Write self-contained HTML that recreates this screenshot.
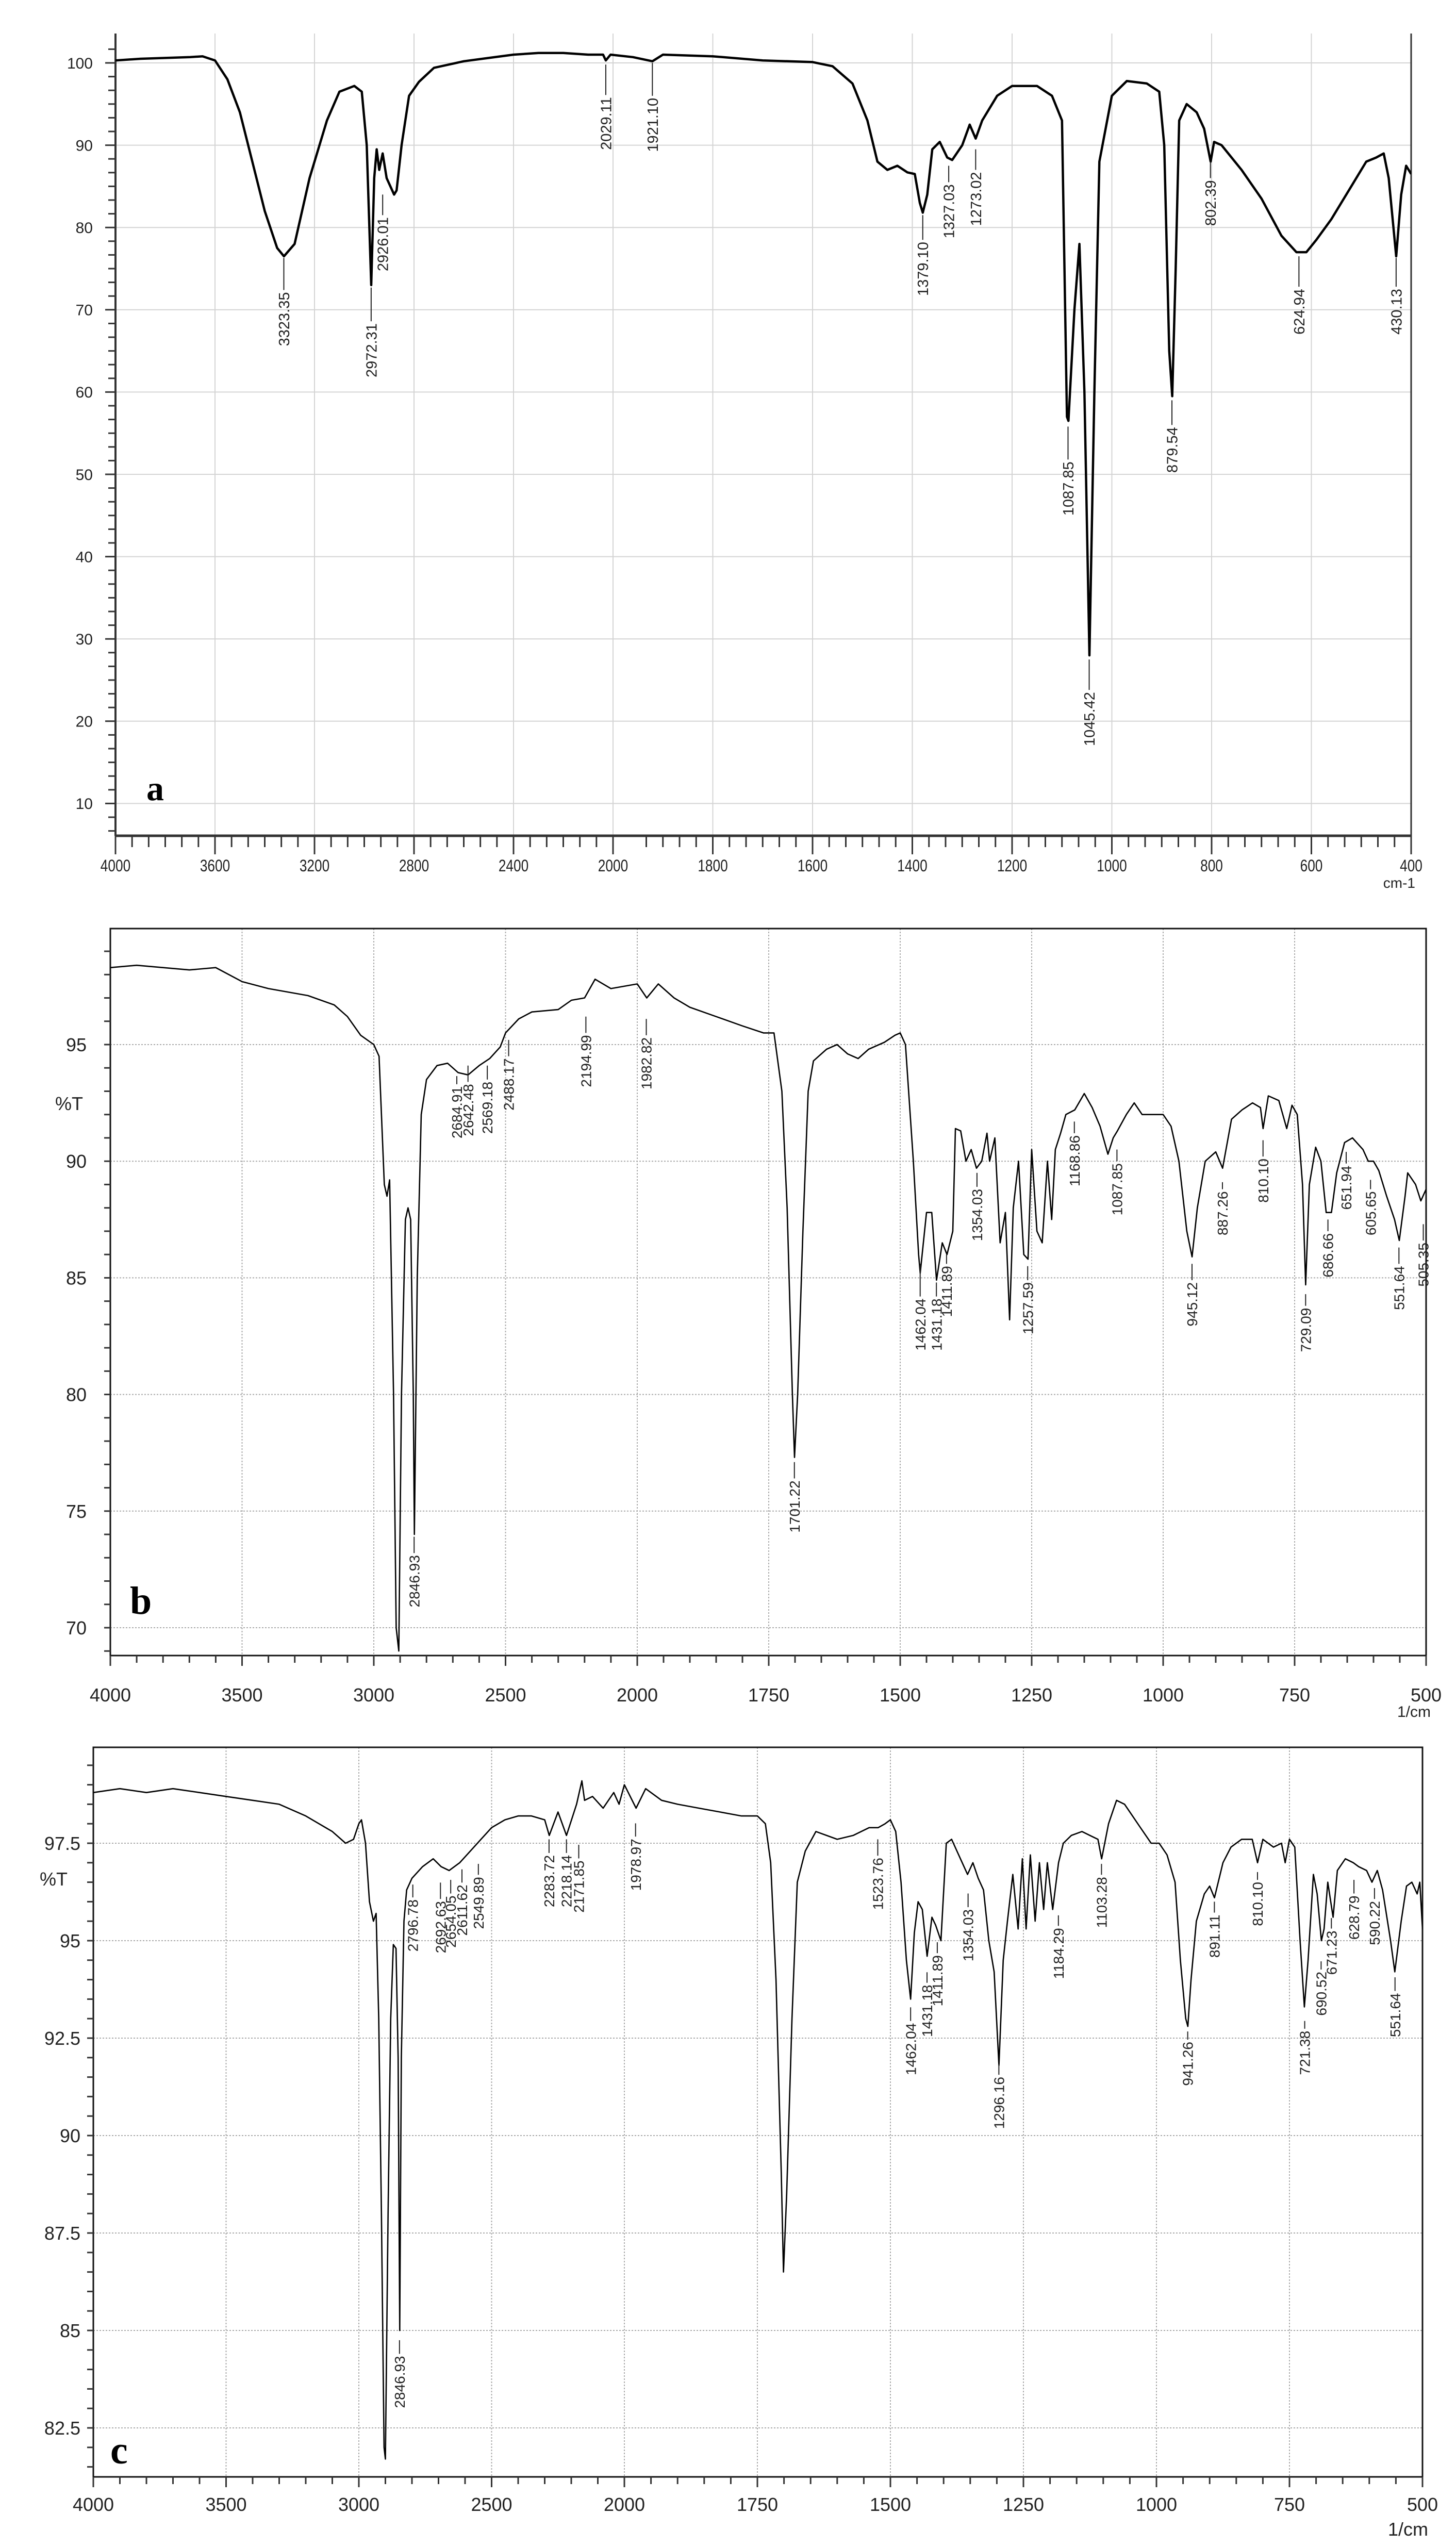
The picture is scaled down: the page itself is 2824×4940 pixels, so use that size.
<!DOCTYPE html>
<html><head><meta charset="utf-8">
<style>
html,body{margin:0;padding:0;background:#fff;}
svg{display:block;font-family:"Liberation Sans",sans-serif;}
</style></head>
<body>
<svg id="fig" width="2824" height="4940" viewBox="0 0 2824 4940" xmlns="http://www.w3.org/2000/svg"></svg>
<script>
// ---------- Panel a data ----------
const aWn=[4000,3900,3800,3700,3650,3600,3550,3500,3450,3400,3350,3323,3280,3220,3150,3100,3040,3010,2990,2972,2960,2950,2940,2926,2910,2880,2870,2850,2820,2780,2720,2600,2500,2400,2300,2200,2100,2040,2029,2010,1960,1921,1900,1800,1700,1600,1560,1520,1490,1470,1450,1430,1410,1395,1385,1379,1370,1360,1345,1330,1320,1300,1285,1273,1260,1230,1200,1150,1120,1100,1090,1087,1075,1065,1055,1045,1035,1025,1000,970,930,905,895,885,879,872,865,850,830,815,802,795,780,740,700,660,630,610,590,560,520,490,470,455,445,430,420,410,400];
const aT=[100.3,100.5,100.6,100.7,100.8,100.3,98,94,88,82,77.5,76.5,78,86,93,96.5,97.2,96.5,90,73,86,89.5,87,89,86,84,84.5,90,96,97.7,99.4,100.2,100.6,101,101.2,101.2,101,101,100.3,101,100.7,100.2,101,100.8,100.3,100.1,99.6,97.5,93,88,87,87.5,86.7,86.5,83,81.8,84,89.5,90.4,88.5,88.2,90,92.5,90.8,93,96,97.2,97.2,96,93,57,56.5,70,78,60,28,60,88,96,97.8,97.5,96.5,90,65,59.5,75,93,95,94,92,88,90.4,90,87,83.5,79,77,77,78.5,81,85,88,88.5,89,86,76.5,84,87.5,86.5];
const aPeakWn=[3323.35,2972.31,2926.01,2029.11,1921.10,1379.10,1327.03,1273.02,1087.85,1045.42,879.54,802.39,624.94,430.13];
const aPeakLabels=["3323.35","2972.31","2926.01","2029.11","1921.10","1379.10","1327.03","1273.02","1087.85","1045.42","879.54","802.39","624.94","430.13"];
const aPeakTop=[76.3,72.7,84.0,99.8,100.0,81.5,87.5,89.5,55.8,27.5,59.0,88.0,76.5,76.3];
const aPeakBot=[72.4,68.6,81.5,96.1,96.0,78.5,85.5,87.0,51.8,23.8,56.0,86.0,72.8,72.8];
const aYTicks=[10,20,30,40,50,60,70,80,90,100];
const aXTicks=[4000,3600,3200,2800,2400,2000,1800,1600,1400,1200,1000,800,600,400];

// ---------- Panel b data ----------
const bWn=[4000,3900,3800,3700,3600,3500,3400,3250,3150,3100,3050,3000,2980,2960,2950,2940,2925,2915,2905,2895,2880,2870,2860,2850,2846,2835,2820,2800,2760,2720,2680,2642,2600,2560,2520,2500,2450,2400,2300,2250,2200,2160,2100,2050,2000,1982,1960,1930,1900,1850,1800,1760,1740,1725,1715,1705,1701,1695,1685,1675,1665,1640,1620,1600,1580,1560,1530,1510,1500,1490,1475,1465,1462,1450,1440,1431,1420,1411,1400,1395,1385,1375,1365,1355,1345,1335,1330,1320,1310,1300,1292,1285,1275,1265,1257,1250,1240,1230,1220,1212,1205,1195,1185,1168,1150,1135,1120,1105,1095,1087,1070,1055,1040,1020,1000,985,970,955,945,935,920,900,887,870,850,830,815,810,800,780,765,755,745,735,729,722,710,700,690,680,670,655,640,620,610,600,590,575,560,551,540,535,520,510,500];
const bT=[98.3,98.4,98.3,98.2,98.3,97.7,97.4,97.1,96.7,96.2,95.4,95.0,94.5,89,88.5,89.2,80,70,69,80,87.5,88,87.5,80,74,85,92,93.5,94.1,94.2,93.8,93.7,94.1,94.4,94.9,95.5,96.1,96.4,96.5,96.9,97,97.8,97.4,97.5,97.6,97,97.6,97,96.6,96.2,95.8,95.5,95.5,93,88,80,77.3,80,87,93,94.3,94.8,95,94.6,94.4,94.8,95.1,95.4,95.5,95,90,86,85.2,87.8,87.8,84.9,86.5,86,87,91.4,91.3,90,90.5,89.7,90,91.2,90,91,86.5,87.8,83.2,88,90,86,85.8,90.5,87,86.5,90,87.5,90.5,91.2,92,92.2,92.9,92.3,91.5,90.3,91,91.3,92,92.5,92,92,92,91.5,90,87,85.9,88,90,90.4,89.7,91.8,92.2,92.5,92.3,91.4,92.8,92.6,91.4,92.4,92,89,84.7,89,90.6,90,87.8,87.8,89.5,90.8,91,90.5,90,90,89.6,88.5,87.5,86.6,88.5,89.5,89,88.3,88.8];
const bPeakWn=[2846.93,2684.91,2642.48,2569.18,2488.17,2194.99,1982.82,1701.22,1462.04,1431.18,1411.89,1354.03,1257.59,1168.86,1087.85,945.12,887.26,810.10,729.09,686.66,651.94,605.65,551.64,505.35];
const bPeakLabels=["2846.93","2684.91","2642.48","2569.18","2488.17","2194.99","1982.82","1701.22","1462.04","1431.18","1411.89","1354.03","1257.59","1168.86","1087.85","945.12","887.26","810.10","729.09","686.66","651.94","605.65","551.64","505.35"];
const bPeakTop=[73.9,93.65,94.1,94.1,95.2,96.2,96.1,77.1,85.6,84.8,86.0,89.5,85.5,91.7,90.5,85.6,89.1,90.9,84.3,87.5,90.4,89.2,86.3,87.3];
const bPeakBot=[73.2,93.3,93.4,93.5,94.5,95.5,95.4,76.4,84.2,84.2,85.6,88.9,84.9,91.2,90.0,84.9,88.8,90.2,83.8,87.0,89.9,88.8,85.6,86.6];
const bYTicks=[70,75,80,85,90,95];
const bXTicks=[4000,3500,3000,2500,2000,1750,1500,1250,1000,750,500];

// ---------- Panel c data ----------
const cWn=[4000,3900,3800,3700,3600,3500,3400,3300,3200,3150,3100,3050,3020,3000,2990,2975,2960,2945,2935,2925,2915,2905,2900,2890,2880,2870,2860,2852,2846,2840,2830,2820,2800,2760,2720,2690,2660,2620,2580,2540,2500,2450,2400,2350,2300,2283,2250,2218,2180,2160,2150,2120,2080,2040,2020,2000,1978,1960,1930,1900,1860,1820,1780,1750,1735,1725,1715,1705,1701,1695,1685,1675,1660,1640,1620,1600,1570,1540,1523,1510,1500,1490,1480,1470,1462,1455,1448,1440,1431,1422,1415,1405,1395,1385,1375,1365,1355,1345,1335,1325,1315,1305,1296,1288,1280,1270,1260,1252,1245,1237,1228,1220,1212,1205,1195,1184,1175,1160,1140,1125,1110,1103,1090,1075,1060,1045,1030,1010,995,980,965,955,945,941,935,925,910,900,891,875,860,840,820,810,800,780,765,758,750,740,730,722,715,705,698,690,685,678,668,660,645,630,620,605,595,585,575,560,552,540,530,520,510,505,500];
const cT=[98.8,98.9,98.8,98.9,98.8,98.7,98.6,98.5,98.2,98,97.8,97.5,97.6,98.0,98.1,97.5,96,95.5,95.7,93,88,82,81.7,88,93,94.9,94.8,92,85,92,95.5,96.3,96.6,96.9,97.1,96.9,96.8,97,97.3,97.6,97.9,98.1,98.2,98.2,98.1,97.7,98.3,97.7,98.5,99.1,98.6,98.7,98.4,98.8,98.5,99.0,98.4,98.9,98.6,98.5,98.4,98.3,98.2,98.2,98.0,97,94,89,86.5,88.5,93,96.5,97.3,97.8,97.7,97.6,97.7,97.9,97.9,98,98.1,97.8,96.5,94.5,93.5,95.2,96,95.8,94.6,95.6,95.4,95.0,97.5,97.6,97.3,97,96.7,97,96.6,96.3,95,94.2,91.8,94.5,95.5,96.7,95.3,97.1,95.3,97.2,95.5,97,95.8,97,95.8,97,97.5,97.7,97.8,97.7,97.6,97.1,98,98.6,98.5,98.2,97.9,97.5,97.5,97.2,96.5,94.5,93,92.8,94,95.5,96.2,96.4,96.1,97,97.4,97.6,97.6,97,97.6,97.4,97.5,97.0,97.6,97.4,95,93.3,94.5,96.7,96.2,95,95.3,96.5,95.6,96.8,97.1,97,96.9,96.8,96.5,96.8,96.3,95,94.2,95.5,96.4,96.5,96.2,96.5,95.3];
const cPeakWn=[2846.93,2796.78,2692.63,2654.05,2611.62,2549.89,2283.72,2218.14,2171.85,1978.97,1523.76,1462.04,1431.18,1411.89,1354.03,1296.16,1184.29,1103.28,941.26,891.11,810.10,721.38,690.52,671.23,628.79,590.22,551.64];
const cPeakLabels=["2846.93","2796.78","2692.63","2654.05","2611.62","2549.89","2283.72","2218.14","2171.85","1978.97","1523.76","1462.04","1431.18","1411.89","1354.03","1296.16","1184.29","1103.28","941.26","891.11","810.10","721.38","690.52","671.23","628.79","590.22","551.64"];
const cPeakTop=[84.75,96.44,96.49,96.56,96.83,96.97,97.6,97.6,97.46,98.01,97.6,93.29,94.19,94.96,96.21,91.83,95.65,96.97,92.67,96.0,96.76,92.94,94.47,95.58,96.56,96.35,94.06];
const cPeakBot=[84.4,96.11,96.07,96.21,96.49,96.69,97.25,97.25,97.11,97.67,97.18,92.94,93.92,94.68,95.86,91.56,95.38,96.69,92.46,95.72,96.56,92.74,94.26,95.31,96.21,96.07,93.71];
const cYTicks=[82.5,85,87.5,90,92.5,95,97.5];
const cXTicks=[4000,3500,3000,2500,2000,1750,1500,1250,1000,750,500];

const NS="http://www.w3.org/2000/svg";
const svg=document.getElementById('fig');
function mk(tag,attrs,parent){const e=document.createElementNS(NS,tag);for(const k in attrs)e.setAttribute(k,attrs[k]);(parent||svg).appendChild(e);return e;}

function xScale(x0,xm,x1,hi,lo){return w=> w>=2000 ? x0+(hi-w)/(hi-2000)*(xm-x0) : xm+(2000-w)/(2000-lo)*(x1-xm);}
function yScale(refV,refY,pxPerUnit){return v=>refY+(refV-v)*pxPerUnit;}

function drawPanel(p){
  const g=mk('g',{});
  
  
  const X=p.X,Y=p.Y;
  p.yTicks.forEach(v=>{
    const l=mk('line',{x1:p.left,x2:p.right,y1:Y(v),y2:Y(v),stroke:p.gridColor,'stroke-width':p.gridW,'stroke-dasharray':p.dash},g);
    
    
  });
  p.xTicks.forEach(w=>{
    if(w===p.hi||w===p.lo)return;
    const l=mk('line',{x1:X(w),x2:X(w),y1:p.top,y2:p.bottom,stroke:p.gridColor,'stroke-width':p.gridW,'stroke-dasharray':p.dash},g);
    
    
  });
  if(p.box){
    const r=mk('rect',{x:p.left,y:p.top,width:p.right-p.left,height:p.bottom-p.top,fill:'none',stroke:'#111','stroke-width':3},g);
    
    
  } else {
    const l1=mk('line',{x1:p.left,x2:p.left,y1:p.top,y2:p.bottom,stroke:'#333','stroke-width':4},g);
    
    
    const l2=mk('line',{x1:p.left,x2:p.right,y1:p.bottom,y2:p.bottom,stroke:'#333','stroke-width':5},g);
    
    
    const l3=mk('line',{x1:p.right,x2:p.right,y1:p.top,y2:p.bottom,stroke:'#333','stroke-width':3},g);
    
    
  }
  const yMax=Math.max(...p.yTicks)+p.yMinorStep*20;
  for(let v=Math.min(...p.yTicks)-p.yMinorStep*20;v<=yMax;v+=p.yMinorStep){
    const y=Y(v); if(y<p.top+4||y>p.bottom-4)continue;
    const isMaj=p.yTicks.some(t=>Math.abs(t-v)<1e-6);
    const t=mk('line',{x1:p.left-(isMaj?p.majLen:p.minLen),x2:p.left,y1:y,y2:y,stroke:'#333','stroke-width':3},g);
    
    
  }
  p.yTicks.forEach(v=>{
    const t=mk('text',{x:p.yLabX,y:Y(v)+p.yFont*0.36,'text-anchor':'end','font-size':p.yFont,fill:'#222'},g);
    t.textContent=p.yFmt(v);
    
    
  });
  for(let w=p.hi; w>=p.lo-0.01; w-= (w>2000? p.xMinHi : p.xMinLo)){
    const isMaj=p.xTicks.some(t=>Math.abs(t-w)<0.5);
    const t=mk('line',{x1:X(w),x2:X(w),y1:p.bottom,y2:p.bottom+(isMaj?p.xMajLen:p.xMinLen),stroke:'#333','stroke-width':3},g);
    
    
  }
  p.xTicks.forEach(w=>{
    const t=mk('text',{x:X(w),y:p.xLabY,'text-anchor':'middle','font-size':p.xFont,fill:'#222'},g);
    if(p.condensed){t.setAttribute('transform',`translate(${X(w)},0) scale(0.82,1) translate(${-X(w)},0)`);}
    t.textContent=String(w);
    
    
  });
  const clipId=p.name+'-clip';
  const cp=mk('clipPath',{id:clipId},g);
  mk('rect',{x:p.left,y:p.top,width:p.right-p.left,height:p.bottom-p.top+2},cp);
  const pts=p.wn.map((w,i)=>X(w).toFixed(1)+','+Y(p.t[i]).toFixed(1)).join(' ');
  const line=mk('polyline',{points:pts,fill:'none',stroke:'#000','stroke-width':p.lineW,'stroke-linejoin':'round','clip-path':`url(#${clipId})`},g);
  
  
  p.pWn.forEach((w,i)=>{
    const x=X(w), y0=Y(p.pTop[i]), y1=Y(p.pBot[i]);
    const l=mk('line',{x1:x,x2:x,y1:y0,y2:y1,stroke:'#222','stroke-width':2},g);
    
    
    const ty=y1+4;
    const t=mk('text',{x:x,y:ty,dy:p.pFont*0.36,'text-anchor':'end','font-size':p.pFont,fill:'#222',transform:`rotate(-90 ${x} ${ty})`},g);
    t.textContent=p.pLab[i];
    
    
  });
  if(p.unit){
    const u=mk('text',{x:p.unitX,y:p.unitY,'text-anchor':'end','font-size':p.unitFont,fill:'#222'},g);
    u.textContent=p.unit;
    
    
  }
  if(p.yTitle){
    const u=mk('text',{x:p.yTitleX,y:p.yTitleY,'text-anchor':'middle','font-size':p.yFont,fill:'#222'},g);
    u.textContent=p.yTitle;
    
    
  }
  const L=mk('text',{x:p.letterX,y:p.letterY,'font-size':p.letterFont,'font-weight':'bold','font-family':'Liberation Serif, serif',fill:'#000'},g);
  L.textContent=p.letter;
  
  
}

drawPanel({name:'panel-a',wn:aWn,t:aT,pWn:aPeakWn,pLab:aPeakLabels,pTop:aPeakTop,pBot:aPeakBot,yTicks:aYTicks,xTicks:aXTicks,
  X:xScale(224,1189,2737,4000,400),Y:yScale(100,122,15.96),hi:4000,lo:400,
  left:224,right:2737,top:65,bottom:1621,box:false,gridColor:'#d4d4d4',gridW:2,dash:'none',
  yMinorStep:10/6,majLen:20,minLen:14,yLabX:180,yFont:30,yFmt:v=>String(v),
  xMinHi:400/6,xMinLo:200/6,xMajLen:36,xMinLen:22,xLabY:1690,xFont:32,condensed:true,
  lineW:4.5,pFont:29,unit:'cm-1',unitX:2745,unitY:1722,unitFont:28,
  letter:'a',letterX:284,letterY:1552,letterFont:68});

drawPanel({name:'panel-b',wn:bWn,t:bT,pWn:bPeakWn,pLab:bPeakLabels,pTop:bPeakTop,pBot:bPeakBot,yTicks:bYTicks,xTicks:bXTicks,
  X:xScale(214,1236,2766,4000,500),Y:yScale(95,2026,45.24),hi:4000,lo:500,
  left:214,right:2766,top:1801,bottom:3211,box:true,gridColor:'#aaa',gridW:2,dash:'3,3',
  yMinorStep:1,majLen:12,minLen:12,yLabX:168,yFont:36,yFmt:v=>String(v),
  xMinHi:100,xMinLo:50,xMajLen:20,xMinLen:14,xLabY:3300,xFont:36,condensed:false,
  lineW:2.6,pFont:28,unit:'1/cm',unitX:2775,unitY:3330,unitFont:30,
  yTitle:'%T',yTitleX:134,yTitleY:2153,
  letter:'b',letterX:252,letterY:3130,letterFont:76});

drawPanel({name:'panel-c',wn:cWn,t:cT,pWn:cPeakWn,pLab:cPeakLabels,pTop:cPeakTop,pBot:cPeakBot,yTicks:cYTicks,xTicks:cXTicks,
  X:xScale(181,1211,2759,4000,500),Y:yScale(97.5,3575,75.6),hi:4000,lo:500,
  left:181,right:2759,top:3389,bottom:4804,box:true,gridColor:'#aaa',gridW:2,dash:'3,3',
  yMinorStep:0.5,majLen:12,minLen:12,yLabX:156,yFont:36,yFmt:v=>String(v),
  xMinHi:100,xMinLo:50,xMajLen:20,xMinLen:14,xLabY:4870,xFont:36,condensed:false,
  lineW:2.6,pFont:28,unit:'1/cm',unitX:2770,unitY:4918,unitFont:36,
  yTitle:'%T',yTitleX:104,yTitleY:3657,
  letter:'c',letterX:214,letterY:4778,letterFont:76});
</script>
</body></html>
